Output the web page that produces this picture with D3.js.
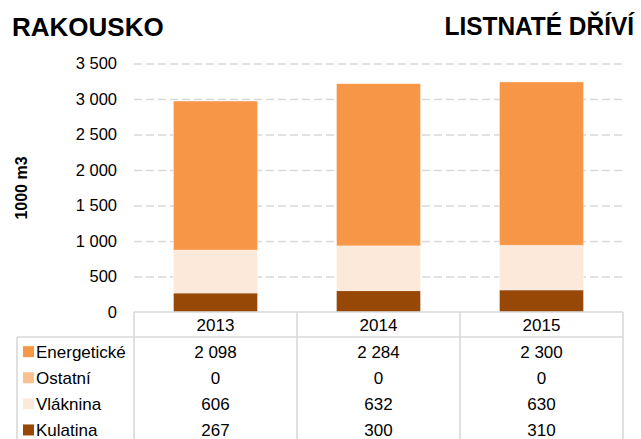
<!DOCTYPE html>
<html>
<head>
<meta charset="utf-8">
<script src="https://cdn.jsdelivr.net/npm/d3@7"></script>
<style>
body{margin:0;background:#fff;}
text{font-family:"Liberation Sans",Arial,sans-serif;fill:#000;}
</style>
</head>
<body>
<svg id="chart"></svg>
<script>
var years = ["2013", "2014", "2015"];
var seriesNames = ["Energetické", "Ostatní", "Vláknina", "Kulatina"];
var energeticke = [2098, 2284, 2300];
var ostatni = [0, 0, 0];
var vlaknina = [606, 632, 630];
var kulatina = [267, 300, 310];
var seriesColors = ["#f79646", "#fac090", "#fde9d9", "#974706"];
var yTicks = [0, 500, 1000, 1500, 2000, 2500, 3000, 3500];

var width = 641, height = 439;
var margin = {left: 134, right: 18, top: 64, bottom: 127};
var plotBottom = height - margin.bottom;   // zero line / table top
var plotRight = width - margin.right;
var fontSize = "16.5px", tableFont = "17px";

var svg = d3.select("#chart").attr("width", width).attr("height", height);

// rows for the stack, bottom series first
var seriesValues = {"Energetické": energeticke, "Ostatní": ostatni, "Vláknina": vlaknina, "Kulatina": kulatina};
var rows = years.map(function(y, i) {
  var r = {year: y};
  seriesNames.forEach(function(s) { r[s] = seriesValues[s][i]; });
  return r;
});
var stackKeys = seriesNames.slice().reverse();
var stacked = d3.stack().keys(stackKeys)(rows);
var color = d3.scaleOrdinal().domain(seriesNames).range(seriesColors);

var fmt = d3.formatLocale({decimal: ",", thousands: " ", grouping: [3], currency: ["", ""]}).format(",");

var y = d3.scaleLinear().domain([0, 3500]).range([plotBottom, margin.top - 0.5]);
var cols = d3.scaleBand().domain(years).range([margin.left, plotRight]);
var x = d3.scaleBand().domain(years).range([margin.left, plotRight]).paddingInner(0.485).paddingOuter(0.2425);

// dashed gridlines
var yAxis = d3.axisLeft(y).tickValues(yTicks).tickSize(-(plotRight - margin.left)).tickPadding(17).tickFormat(fmt);
var ga = svg.append("g").attr("transform", "translate(" + margin.left + ",0)").call(yAxis);
ga.select(".domain").remove();
ga.selectAll(".tick line")
  .attr("stroke", "#d9d9d9").attr("stroke-width", 1.6).attr("stroke-dasharray", "8,4")
  .attr("opacity", function(d) { return d === 0 ? 0 : 1; });
ga.selectAll(".tick text").attr("font-size", fontSize).attr("font-family", "Liberation Sans, Arial, sans-serif").attr("fill", "#000");

// bars
svg.append("g").selectAll("g")
  .data(stacked)
  .enter().append("g")
  .attr("fill", function(d) { return color(d.key); })
  .selectAll("rect")
  .data(function(d) { return d; })
  .enter().append("rect")
  .attr("x", function(d) { return x(d.data.year); })
  .attr("width", x.bandwidth())
  .attr("y", function(d) { return y(d[1]); })
  .attr("height", function(d) { return y(d[0]) - y(d[1]); })
  .attr("stroke", "#fff").attr("stroke-opacity", 0.4).attr("stroke-width", 0.8);

// y title
svg.append("text")
  .attr("transform", "translate(27,188) rotate(-90)")
  .attr("text-anchor", "middle")
  .attr("font-size", "16px").attr("font-weight", "bold")
  .text("1000 m3");

// titles
svg.append("text").attr("x", 12).attr("y", 36)
  .attr("font-size", "26px").attr("font-weight", "bold")
  .text("RAKOUSKO");
svg.append("text").attr("transform", "translate(634,35) scale(0.94,1)")
  .attr("text-anchor", "end")
  .attr("font-size", "26px").attr("font-weight", "bold")
  .text("LISTNATÉ DŘÍVÍ");

// data table
var headerH = 25, rowH = 26.1, legendLeft = 17;
var lineColor = "#d9d9d9";
var tbl = svg.append("g");
tbl.append("line").attr("x1", margin.left).attr("x2", plotRight).attr("y1", plotBottom).attr("y2", plotBottom)
  .attr("stroke", lineColor).attr("stroke-width", 1.6);
tbl.append("line").attr("x1", legendLeft).attr("x2", plotRight).attr("y1", plotBottom + headerH).attr("y2", plotBottom + headerH)
  .attr("stroke", lineColor).attr("stroke-width", 1.6);
tbl.append("line").attr("x1", legendLeft).attr("x2", legendLeft).attr("y1", plotBottom + headerH).attr("y2", height + 10)
  .attr("stroke", lineColor).attr("stroke-width", 1.6);
var colEdges = years.map(function(d) { return cols(d); }).concat([plotRight]);
tbl.selectAll(".vline").data(colEdges).enter().append("line")
  .attr("x1", function(d) { return d; }).attr("x2", function(d) { return d; })
  .attr("y1", plotBottom).attr("y2", height + 10)
  .attr("stroke", lineColor).attr("stroke-width", 1.6);

tbl.selectAll(".yr").data(years).enter().append("text")
  .attr("x", function(d) { return cols(d) + cols.bandwidth() / 2; })
  .attr("y", plotBottom + headerH / 2)
  .attr("dy", "0.36em").attr("text-anchor", "middle").attr("font-size", tableFont)
  .text(function(d) { return d; });

var rowTop = plotBottom + headerH + 1.6;
seriesNames.forEach(function(s, i) {
  var cy = rowTop + rowH * i + rowH / 2;
  tbl.append("rect").attr("x", 23).attr("y", cy - 5.5).attr("width", 11).attr("height", 11).attr("fill", color(s));
  tbl.append("text").attr("x", 36).attr("y", cy).attr("dy", "0.36em").attr("font-size", tableFont).text(s);
  tbl.selectAll(".v" + i).data(seriesValues[s]).enter().append("text")
    .attr("x", function(d, j) { return cols(years[j]) + cols.bandwidth() / 2; })
    .attr("y", cy).attr("dy", "0.36em").attr("text-anchor", "middle").attr("font-size", tableFont)
    .text(function(d) { return fmt(d); });
});
</script>
</body>
</html>
